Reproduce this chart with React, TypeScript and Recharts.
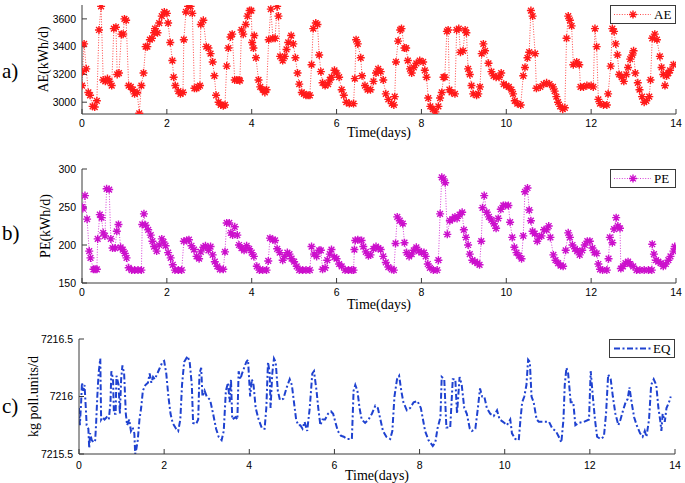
import React from 'react';
import { LineChart, Line, XAxis, YAxis, Legend } from 'recharts';

// ---------------- data ----------------
const xTicks = [0, 2, 4, 6, 8, 10, 12, 14];
const aeTicks = [3000, 3200, 3400, 3600];
const peTicks = [150, 200, 250, 300];
const eqTicks = [7215.5, 7216, 7216.5];

const aeTime = [
  0.0, 0.01, 0.05, 0.1, 0.15, 0.19, 0.25, 0.3, 0.35, 0.4, 0.45, 0.5, 0.55, 0.6, 0.65, 0.7, 0.75, 0.8, 0.83, 0.87,
  0.93, 0.97, 1.0, 1.04, 1.1, 1.15, 1.2, 1.24, 1.3, 1.35, 1.4, 1.45, 1.5, 1.54, 1.6, 1.65, 1.7, 1.72, 1.78, 1.82,
  1.88, 1.94, 2.0, 2.03, 2.08, 2.13, 2.16, 2.2, 2.27, 2.32, 2.38, 2.4, 2.45, 2.5, 2.56, 2.6, 2.65, 2.7, 2.74, 2.78,
  2.8, 2.86, 2.93, 2.98, 3.03, 3.08, 3.12, 3.16, 3.22, 3.27, 3.33, 3.37, 3.41, 3.45, 3.5, 3.54, 3.6, 3.65, 3.7, 3.72,
  3.76, 3.8, 3.86, 3.9, 3.95, 3.99, 4.01, 4.04, 4.06, 4.1, 4.16, 4.2, 4.26, 4.31, 4.35, 4.4, 4.45, 4.5, 4.55, 4.6,
  4.63, 4.67, 4.73, 4.78, 4.82, 4.86, 4.93, 4.98, 5.03, 5.08, 5.12, 5.18, 5.23, 5.28, 5.33, 5.37, 5.41, 5.45, 5.51, 5.55,
  5.59, 5.63, 5.67, 5.73, 5.8, 5.84, 5.88, 5.95, 6.0, 6.06, 6.12, 6.17, 6.23, 6.3, 6.4, 6.43, 6.46, 6.5, 6.57, 6.6,
  6.67, 6.73, 6.8, 6.87, 6.93, 6.98, 7.04, 7.1, 7.16, 7.22, 7.3, 7.35, 7.37, 7.4, 7.45, 7.5, 7.53, 7.6, 7.64, 7.68,
  7.73, 7.77, 7.82, 7.88, 7.96, 8.04, 8.08, 8.12, 8.16, 8.21, 8.27, 8.33, 8.4, 8.44, 8.48, 8.52, 8.55, 8.6, 8.63, 8.66,
  8.71, 8.79, 8.83, 8.88, 8.92, 8.98, 9.03, 9.06, 9.1, 9.14, 9.18, 9.22, 9.3, 9.34, 9.38, 9.42, 9.46, 9.5, 9.58, 9.65,
  9.7, 9.76, 9.83, 9.88, 9.94, 10.0, 10.06, 10.12, 10.16, 10.2, 10.26, 10.34, 10.4, 10.44, 10.5, 10.54, 10.58, 10.62, 10.68, 10.71,
  10.8, 10.88, 10.95, 11.02, 11.1, 11.14, 11.18, 11.22, 11.27, 11.33, 11.38, 11.42, 11.46, 11.5, 11.54, 11.58, 11.66, 11.72, 11.75, 11.82,
  11.9, 12.0, 12.05, 12.09, 12.13, 12.17, 12.21, 12.29, 12.37, 12.4, 12.46, 12.5, 12.54, 12.58, 12.62, 12.66, 12.72, 12.77, 12.83, 12.87,
  12.92, 12.97, 13.0, 13.04, 13.1, 13.14, 13.2, 13.25, 13.3, 13.37, 13.4, 13.44, 13.5, 13.55, 13.62, 13.66, 13.7, 13.74, 13.78, 13.82,
  13.86, 13.94,
];
const aeValue = [
  3120, 3220, 3420, 3240, 3070, 3050, 2970, 2965, 3010, 3520, 3690, 3160, 3150, 3170, 3150, 3120, 3530, 3540, 3200, 3210,
  3490, 3490, 3600, 3590, 3120, 3110, 3090, 3060, 3070, 2920, 3120, 3210, 3400, 3400, 3450, 3460, 3500, 3530, 3500, 3570,
  3620, 3650, 3640, 3570, 3430, 3300, 3180, 3120, 3080, 3060, 3070, 3450, 3650, 3690, 3690, 3640, 3100, 3100, 3110, 3120,
  3560, 3590, 3400, 3390, 3350, 3290, 3190, 3050, 3000, 2980, 2975, 2980, 3260, 3390, 3470, 3490, 3160, 3160, 3160, 3155,
  3520, 3490, 3560, 3620, 3660, 3660, 3430, 3390, 3480, 3320, 3160, 3110, 3090, 3070, 3090, 3450, 3670, 3460, 3460, 3690,
  3620, 3330, 3300, 3330, 3380, 3430, 3480, 3420, 3320, 3210, 3130, 3070, 3060, 3050, 3050, 3050, 3270, 3530, 3570, 3560,
  3340, 3220, 3140, 3120, 3130, 3160, 3180, 3230, 3210, 3180, 3090, 3050, 3000, 2990, 2990, 3170, 3450, 3420, 3320, 3190,
  3120, 3090, 3090, 3150, 3210, 3240, 3220, 3160, 3060, 3020, 2990, 2980, 3040, 3290, 3440, 3520, 3530, 3390, 3390, 3300,
  3240, 3210, 3250, 3280, 3300, 3290, 3230, 3180, 3030, 2970, 2950, 2930, 2970, 3030, 3070, 3180, 3180, 3510, 3520, 3090,
  3070, 3060, 3520, 3530, 3360, 3370, 3520, 3500, 3240, 3200, 3120, 3060, 3050, 3060, 3110, 3350, 3420, 3370, 3280, 3220,
  3190, 3180, 3180, 3210, 3130, 3120, 3110, 3090, 3060, 3010, 2990, 2980, 3190, 3250, 3320, 3360, 3660, 3620, 3350, 3100,
  3110, 3130, 3140, 3130, 3110, 3080, 3040, 3000, 2970, 2950, 2960, 3460, 3620, 3590, 3550, 3270, 3290, 3270, 3110, 3110,
  3120, 3120, 3110, 3530, 3400, 3020, 2990, 2980, 2980, 3060, 3260, 3530, 3510, 3420, 3340, 3200, 3180, 3150, 3200, 3250,
  3310, 3340, 3370, 3210, 3140, 3090, 3040, 3000, 3010, 3040, 3160, 3460, 3490, 3450, 3330, 3250, 3200, 3120, 3190, 3210,
  3230, 3270,
];

const peTime = [
  0.0, 0.02, 0.07, 0.12, 0.17, 0.2, 0.27, 0.31, 0.35, 0.37, 0.42, 0.46, 0.5, 0.54, 0.58, 0.64, 0.68, 0.72, 0.78, 0.82,
  0.86, 0.91, 0.96, 1.01, 1.05, 1.1, 1.17, 1.24, 1.32, 1.4, 1.42, 1.46, 1.5, 1.56, 1.62, 1.66, 1.7, 1.76, 1.82, 1.88,
  1.92, 1.97, 2.03, 2.09, 2.14, 2.19, 2.27, 2.35, 2.4, 2.47, 2.52, 2.58, 2.64, 2.7, 2.76, 2.8, 2.86, 2.91, 2.98, 3.03,
  3.08, 3.13, 3.19, 3.25, 3.33, 3.37, 3.41, 3.47, 3.51, 3.55, 3.6, 3.66, 3.7, 3.76, 3.82, 3.88, 3.94, 4.0, 4.05, 4.12,
  4.18, 4.26, 4.35, 4.39, 4.43, 4.5, 4.55, 4.6, 4.66, 4.73, 4.78, 4.84, 4.89, 4.94, 5.0, 5.06, 5.12, 5.2, 5.28, 5.37,
  5.41, 5.47, 5.53, 5.59, 5.63, 5.67, 5.73, 5.78, 5.84, 5.88, 5.95, 6.0, 6.06, 6.12, 6.2, 6.28, 6.36, 6.4, 6.42, 6.44,
  6.5, 6.59, 6.63, 6.69, 6.75, 6.8, 6.87, 6.93, 6.98, 7.04, 7.1, 7.16, 7.22, 7.3, 7.35, 7.39, 7.43, 7.49, 7.56, 7.6,
  7.65, 7.71, 7.77, 7.82, 7.88, 7.94, 8.0, 8.06, 8.1, 8.15, 8.2, 8.28, 8.37, 8.4, 8.44, 8.48, 8.52, 8.56, 8.61, 8.67,
  8.73, 8.79, 8.84, 8.9, 8.96, 9.0, 9.05, 9.1, 9.14, 9.2, 9.26, 9.32, 9.37, 9.41, 9.44, 9.48, 9.54, 9.59, 9.65, 9.71,
  9.76, 9.81, 9.87, 9.93, 9.98, 10.05, 10.09, 10.14, 10.19, 10.24, 10.3, 10.36, 10.4, 10.44, 10.5, 10.54, 10.58, 10.62, 10.67, 10.73,
  10.78, 10.83, 10.89, 10.95, 11.0, 11.04, 11.11, 11.16, 11.22, 11.28, 11.34, 11.4, 11.46, 11.5, 11.56, 11.62, 11.67, 11.73, 11.79, 11.85,
  11.91, 11.97, 12.03, 12.08, 12.13, 12.17, 12.21, 12.27, 12.37, 12.41, 12.44, 12.5, 12.54, 12.59, 12.63, 12.68, 12.7, 12.75, 12.81, 12.87,
  12.92, 12.99, 13.07, 13.15, 13.25, 13.35, 13.43, 13.44, 13.48, 13.53, 13.58, 13.64, 13.7, 13.76, 13.82, 13.87, 13.94, 13.97,
];
const peValue = [
  250, 248, 265, 234, 192, 183, 168, 168, 168, 208, 240, 236, 216, 212, 274, 273, 208, 196, 196, 218,
  227, 197, 194, 189, 183, 170, 167, 167, 167, 167, 227, 241, 226, 220, 213, 205, 198, 192, 200, 208,
  204, 199, 190, 183, 174, 167, 167, 167, 205, 206, 207, 199, 194, 185, 182, 191, 197, 199, 193, 198,
  187, 178, 172, 168, 168, 191, 229, 229, 216, 213, 224, 213, 200, 196, 193, 199, 195, 190, 185, 172,
  167, 167, 167, 179, 209, 207, 206, 195, 190, 180, 185, 190, 188, 182, 178, 172, 167, 167, 167, 167,
  198, 188, 185, 193, 193, 168, 170, 180, 188, 194, 184, 182, 175, 172, 167, 167, 167, 167, 194, 206,
  207, 206, 198, 191, 186, 187, 195, 198, 196, 194, 185, 177, 171, 168, 167, 202, 237, 232, 228, 203,
  190, 185, 188, 193, 197, 192, 190, 190, 185, 175, 170, 167, 167, 180, 241, 289, 287, 282, 214, 232,
  234, 237, 235, 240, 243, 220, 210, 200, 188, 180, 178, 176, 174, 205, 249, 265, 243, 237, 233, 228,
  222, 235, 247, 252, 252, 252, 230, 210, 197, 190, 186, 182, 212, 270, 275, 246, 232, 218, 215, 205,
  211, 212, 220, 220, 225, 210, 187, 180, 176, 173, 172, 193, 216, 210, 200, 195, 192, 187, 193, 200,
  205, 205, 196, 190, 189, 175, 168, 167, 167, 182, 210, 203, 221, 236, 225, 222, 169, 172, 176, 178,
  175, 172, 167, 167, 167, 167, 167, 201, 188, 180, 178, 176, 172, 175, 180, 185, 192, 198,
];

const eqTime = [
  0.0, 0.02, 0.05, 0.07, 0.1, 0.13, 0.16, 0.18, 0.22, 0.24, 0.26, 0.3, 0.35, 0.38, 0.4, 0.43, 0.46, 0.5, 0.52, 0.55,
  0.6, 0.65, 0.7, 0.74, 0.76, 0.8, 0.82, 0.86, 0.88, 0.93, 0.96, 0.99, 1.02, 1.06, 1.1, 1.13, 1.18, 1.22, 1.26, 1.3,
  1.32, 1.35, 1.38, 1.42, 1.46, 1.5, 1.56, 1.62, 1.66, 1.7, 1.74, 1.78, 1.84, 1.9, 1.96, 2.0, 2.05, 2.1, 2.15, 2.2,
  2.28, 2.33, 2.38, 2.42, 2.47, 2.55, 2.6, 2.65, 2.68, 2.75, 2.8, 2.83, 2.87, 2.9, 2.95, 3.0, 3.08, 3.15, 3.22, 3.28,
  3.35, 3.4, 3.45, 3.5, 3.54, 3.57, 3.6, 3.68, 3.72, 3.75, 3.79, 3.83, 3.88, 3.93, 3.97, 4.02, 4.06, 4.1, 4.15, 4.22,
  4.3, 4.36, 4.4, 4.44, 4.48, 4.5, 4.54, 4.58, 4.62, 4.67, 4.72, 4.8, 4.88, 4.95, 5.0, 5.05, 5.1, 5.15, 5.2, 5.25,
  5.3, 5.36, 5.42, 5.48, 5.52, 5.58, 5.62, 5.67, 5.72, 5.78, 5.85, 5.92, 5.97, 6.02, 6.08, 6.15, 6.22, 6.3, 6.41, 6.45,
  6.49, 6.54, 6.59, 6.64, 6.72, 6.8, 6.88, 6.96, 7.02, 7.08, 7.14, 7.22, 7.31, 7.36, 7.41, 7.47, 7.52, 7.57, 7.62, 7.7,
  7.78, 7.86, 7.95, 8.03, 8.08, 8.13, 8.21, 8.31, 8.37, 8.42, 8.49, 8.52, 8.58, 8.63, 8.72, 8.78, 8.84, 8.88, 8.94, 8.99,
  9.05, 9.11, 9.18, 9.23, 9.31, 9.37, 9.42, 9.47, 9.52, 9.58, 9.66, 9.74, 9.82, 9.88, 9.96, 10.05, 10.13, 10.17, 10.25, 10.33,
  10.37, 10.41, 10.46, 10.51, 10.55, 10.59, 10.63, 10.68, 10.75, 10.8, 10.92, 11.04, 11.12, 11.2, 11.27, 11.33, 11.38, 11.41, 11.45, 11.49,
  11.55, 11.61, 11.66, 11.74, 11.86, 11.98, 12.02, 12.07, 12.12, 12.17, 12.25, 12.33, 12.38, 12.43, 12.49, 12.54, 12.6, 12.67, 12.72, 12.78,
  12.84, 12.89, 12.93, 12.98, 13.04, 13.1, 13.18, 13.24, 13.29, 13.33, 13.39, 13.44, 13.5, 13.56, 13.61, 13.65, 13.68, 13.71, 13.76, 13.8,
  13.86, 13.9,
];
const eqValue = [
  7215.9, 7215.75, 7215.95, 7216.12, 7216.05, 7216.1, 7215.9, 7215.75, 7215.72, 7215.55, 7215.68, 7215.62, 7215.6, 7215.62, 7215.75, 7216.0, 7216.2, 7216.33, 7215.8, 7215.82,
  7215.8, 7215.82, 7215.8, 7215.95, 7216.22, 7216.15, 7215.85, 7215.85, 7216.18, 7216.1, 7215.85, 7216.15, 7216.27, 7216.2, 7215.85, 7215.75, 7215.8, 7215.7, 7215.73, 7215.68,
  7215.5, 7215.55, 7215.62, 7215.8, 7215.9, 7216.05, 7216.1, 7216.12, 7216.2, 7216.12, 7216.17, 7216.15, 7216.2, 7216.25, 7216.3, 7216.31, 7216.2, 7216.0, 7215.85, 7215.77,
  7215.72, 7215.7, 7215.8, 7216.1, 7216.3, 7216.35, 7216.3, 7216.1, 7215.77, 7215.76, 7215.8, 7216.2, 7216.25, 7216.0, 7216.05, 7216.0, 7215.97, 7215.85, 7215.72, 7215.65,
  7215.62, 7215.7, 7216.05, 7216.12, 7215.95, 7216.15, 7215.8, 7215.82, 7215.8, 7216.22, 7216.15, 7216.2, 7216.25, 7216.3, 7216.32, 7216.0, 7216.15, 7216.1, 7215.9, 7215.8,
  7215.72, 7215.72, 7215.9, 7216.3, 7216.2, 7215.9, 7216.2, 7216.33, 7216.3, 7216.05, 7215.97, 7215.98, 7216.08, 7216.15, 7216.1, 7215.95, 7215.8, 7215.75, 7215.75, 7215.72,
  7215.78, 7215.7, 7215.9, 7216.2, 7216.22, 7216.05, 7215.9, 7215.75, 7215.8, 7215.8, 7215.85, 7215.87, 7215.85, 7215.78, 7215.7, 7215.66, 7215.65, 7215.63, 7215.63, 7216.05,
  7216.1, 7216.05, 7215.9, 7215.8, 7215.77, 7215.8, 7215.85, 7215.92, 7215.9, 7215.8, 7215.7, 7215.65, 7215.63, 7215.7, 7216.0, 7216.15, 7216.18, 7216.05, 7215.95, 7215.88,
  7215.9, 7215.95, 7215.96, 7215.9, 7215.8, 7215.7, 7215.62, 7215.57, 7215.6, 7215.72, 7215.82, 7216.17, 7216.15, 7215.73, 7215.73, 7216.15, 7216.15, 7215.85, 7216.17, 7216.1,
  7215.9, 7215.85, 7215.72, 7215.7, 7215.72, 7215.9, 7216.07, 7216.0, 7216.0, 7215.9, 7215.85, 7215.83, 7215.88, 7215.8, 7215.78, 7215.75, 7215.8, 7215.68, 7215.63, 7215.62,
  7215.8, 7215.95, 7216.0, 7216.1, 7216.32, 7216.3, 7216.0, 7215.95, 7215.8, 7215.78, 7215.78, 7215.78, 7215.72, 7215.7, 7215.65, 7215.6, 7215.8, 7216.1, 7216.25, 7216.2,
  7215.95, 7215.95, 7215.75, 7215.77, 7215.78, 7215.8, 7216.22, 7216.0, 7215.8, 7215.65, 7215.63, 7215.65, 7215.85, 7216.19, 7216.15, 7216.0, 7215.85, 7215.75, 7215.8, 7215.88,
  7215.95, 7215.98, 7216.08, 7215.95, 7215.82, 7215.75, 7215.68, 7215.65, 7215.7, 7215.65, 7215.8, 7216.1, 7216.15, 7216.1, 7215.9, 7215.8, 7215.7, 7215.85, 7215.78, 7215.9,
  7215.95, 7216.0,
];

const aeData = aeTime.map((t, i) => ({ t, v: aeValue[i] }));
const peData = peTime.map((t, i) => ({ t, v: peValue[i] }));
const eqData = eqTime.map((t, i) => ({ t, v: eqValue[i] }));

// ---------------- drawing helpers ----------------
const SANS = 'Arial, "Liberation Sans", Helvetica, sans-serif';
const SERIF = '"Times New Roman", "Liberation Serif", Times, serif';
const AXIS = '#3a3a3a';

function starPath(cx: number, cy: number, r: number) {
  const d = r * 0.72;
  return `M${cx - r},${cy}H${cx + r}M${cx},${cy - r}V${cy + r}M${cx - d},${cy - d}L${cx + d},${cy + d}M${cx - d},${cy + d}L${cx + d},${cy - d}`;
}

const makeStarDot = (color: string) => (props: any) => {
  const { cx, cy, index } = props;
  if (cx == null || cy == null) return <g key={`s-${index}`} />;
  return <path key={`s-${index}`} d={starPath(cx, cy, 4)} stroke={color} strokeWidth={1.4} fill="none" />;
};

const YTitle = (props: any) => {
  const { viewBox, text, cx, letter, letterDy } = props;
  const midY = viewBox.y + viewBox.height / 2;
  return (
    <g>
      <text
        x={cx}
        y={midY}
        transform={`rotate(-90 ${cx} ${midY})`}
        textAnchor="middle"
        dominantBaseline="central"
        fontFamily={SERIF}
        fontSize={14}
        fill="#000"
      >
        {text}
      </text>
      <text x={2} y={midY + letterDy} fontFamily={SERIF} fontSize={21} fill="#000">
        {letter}
      </text>
    </g>
  );
};

const LegendBox = ({ label, color, kind }: { label: string; color: string; kind: 'star' | 'dash' }) => (
  <div
    style={{
      width: 66,
      height: 19,
      boxSizing: 'border-box',
      border: `1px solid ${AXIS}`,
      background: '#fff',
      display: 'flex',
      alignItems: 'center',
    }}
  >
    <svg width={42} height={17} style={{ display: 'block' }}>
      {kind === 'star' ? (
        <>
          <line x1={3} y1={8.5} x2={40} y2={8.5} stroke={color} strokeWidth={0.8} strokeDasharray="1 1.6" />
          <path d={starPath(22, 8.5, 4)} stroke={color} strokeWidth={1.4} fill="none" />
        </>
      ) : (
        <line x1={4} y1={8.5} x2={41} y2={8.5} stroke={color} strokeWidth={2} strokeDasharray="6 2.5 2 2.5" />
      )}
    </svg>
    <span style={{ fontFamily: SERIF, fontSize: 13, color: '#000', lineHeight: '17px', marginLeft: 1 }}>{label}</span>
  </div>
);

type PanelProps = {
  top: number;
  height: number;
  mt: number;
  plotLeft: number;
  plotRight: number;
  xh: number;
  data: { t: number; v: number }[];
  domain: [number, number];
  yTicks: number[];
  title: string;
  titleX: number;
  letter: string;
  letterDy: number;
  color: string;
  kind: 'star' | 'dash';
  legendLabel: string;
  tickFont: number;
  xTickMargin: number;
  xLabelOffset: number;
};

function Panel(p: PanelProps) {
  const tickStyle = { fontSize: p.tickFont, fill: '#000', fontFamily: SANS };
  return (
    <div style={{ position: 'absolute', left: 0, top: p.top }}>
      <LineChart
        width={685}
        height={p.height}
        data={p.data}
        margin={{ top: p.mt, right: 685 - p.plotRight, bottom: 0, left: 0 }}
      >
        <XAxis
          xAxisId="b"
          dataKey="t"
          type="number"
          domain={[0, 14]}
          ticks={xTicks}
          allowDataOverflow
          height={p.xh}
          tickSize={-5}
          tickMargin={p.xTickMargin}
          stroke={AXIS}
          tick={tickStyle}
          label={{
            value: 'Time(days)',
            position: 'insideBottom',
            offset: p.xLabelOffset,
            style: { fontFamily: SERIF, fontSize: 14, fill: '#000' },
          }}
        />
        <XAxis
          xAxisId="top"
          orientation="top"
          type="number"
          domain={[0, 14]}
          ticks={xTicks}
          allowDataOverflow
          height={0}
          tickSize={-5}
          stroke={AXIS}
          tick={false}
        />
        <YAxis
          yAxisId="l"
          type="number"
          domain={p.domain}
          ticks={p.yTicks}
          allowDataOverflow
          width={p.plotLeft}
          tickSize={-5}
          tickMargin={11}
          stroke={AXIS}
          tick={tickStyle}
          label={<YTitle text={p.title} cx={p.titleX} letter={p.letter} letterDy={p.letterDy} />}
        />
        <YAxis
          yAxisId="r"
          orientation="right"
          type="number"
          domain={p.domain}
          ticks={p.yTicks}
          allowDataOverflow
          width={0}
          tickSize={-5}
          stroke={AXIS}
          tick={false}
        />
        {p.kind === 'star' ? (
          <Line
            xAxisId="b"
            yAxisId="l"
            dataKey="v"
            name={p.legendLabel}
            type="linear"
            stroke={p.color}
            strokeWidth={0.8}
            strokeDasharray="1 1.6"
            dot={makeStarDot(p.color)}
            activeDot={false}
            isAnimationActive={false}
          />
        ) : (
          <Line
            xAxisId="b"
            yAxisId="l"
            dataKey="v"
            name={p.legendLabel}
            type="linear"
            stroke={p.color}
            strokeWidth={2}
            strokeDasharray="6 2.5 2 2.5"
            dot={false}
            activeDot={false}
            isAnimationActive={false}
          />
        )}
        <Legend
          layout="horizontal"
          verticalAlign="middle"
          align="center"
          wrapperStyle={{ position: 'absolute', top: p.mt, right: 685 - p.plotRight, left: 'auto', width: 'auto', height: 'auto' }}
          content={() => <LegendBox label={p.legendLabel} color={p.color} kind={p.kind} />}
        />
      </LineChart>
    </div>
  );
}

export default function App() {
  return (
    <div style={{ position: 'absolute', left: 0, top: 0, width: 685, height: 483, background: '#fff', overflow: 'hidden' }}>
      <Panel
        top={0}
        height={145}
        mt={5}
        plotLeft={82}
        plotRight={676}
        xh={31}
        data={aeData}
        domain={[2915, 3700]}
        yTicks={aeTicks}
        title="AE(kWh/d)"
        titleX={43}
        letter="a)"
        letterDy={18}
        color="#ff1a1a"
        kind="star"
        legendLabel="AE"
        tickFont={10.5}
        xTickMargin={11}
        xLabelOffset={8}
      />
      <Panel
        top={160}
        height={154}
        mt={9}
        plotLeft={82}
        plotRight={676}
        xh={31}
        data={peData}
        domain={[150, 300]}
        yTicks={peTicks}
        title="PE(kWh/d)"
        titleX={45}
        letter="b)"
        letterDy={14}
        color="#cc10cc"
        kind="star"
        legendLabel="PE"
        tickFont={10.5}
        xTickMargin={11}
        xLabelOffset={5}
      />
      <Panel
        top={330}
        height={153}
        mt={9}
        plotLeft={79}
        plotRight={675}
        xh={29}
        data={eqData}
        domain={[7215.5, 7216.5]}
        yTicks={eqTicks}
        title="kg poll.units/d"
        titleX={33}
        letter="c)"
        letterDy={16}
        color="#1f42d0"
        kind="dash"
        legendLabel="EQ"
        tickFont={10.5}
        xTickMargin={13}
        xLabelOffset={3}
      />
    </div>
  );
}
